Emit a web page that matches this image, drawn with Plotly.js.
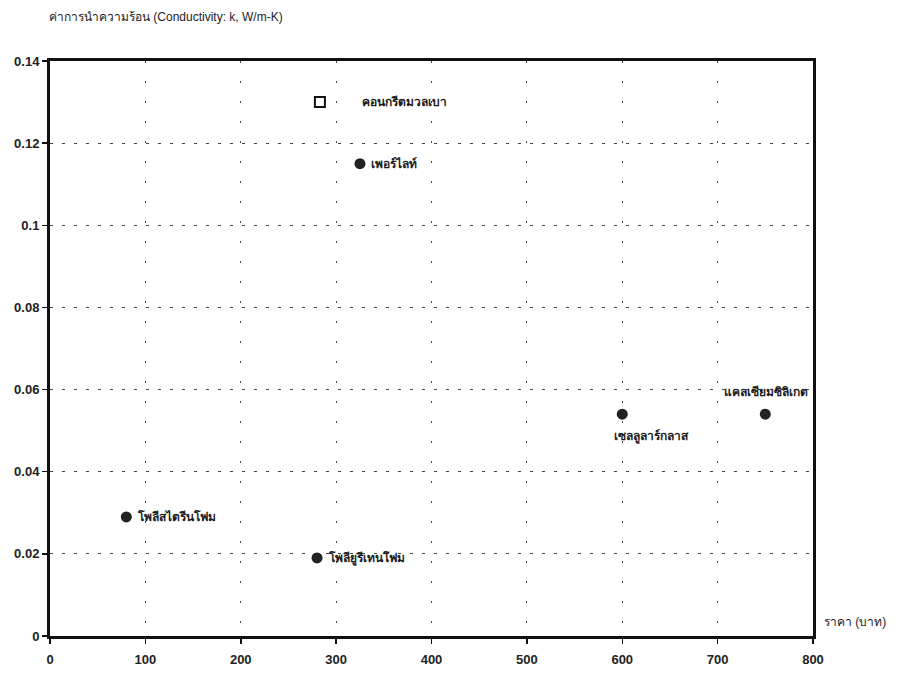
<!DOCTYPE html>
<html>
<head>
<meta charset="utf-8">
<script src="https://cdn.plot.ly/plotly-3.0.1.min.js"></script>
<style>html,body{margin:0;padding:0;background:#fff;}#chart{width:916px;height:677px;}</style>
</head>
<body>
<div id="chart"></div>
<script>
// Data
const materials = ["โพลีสไตรีนโฟม", "โพลียูรีเทนโฟม", "เพอร์ไลท์", "เซลลูลาร์กลาส", "แคลเซียมซิลิเกต"];
const prices = [80, 280, 325, 600, 750];
const conductivity = [0.029, 0.019, 0.115, 0.054, 0.054];

const hollowName = ["คอนกรีตมวลเบา"];
const hollowPrice = [283];
const hollowK = [0.13];

const xTicks = [0, 100, 200, 300, 400, 500, 600, 700, 800];
const yTicks = [0, 0.02, 0.04, 0.06, 0.08, 0.1, 0.12, 0.14];
const yTickText = ["0", "0.02", "0.04", "0.06", "0.08", "0.1", "0.12", "0.14"];

const FONT = "Liberation Sans, Arial, Noto Sans, sans-serif";

// label placement styles
const labelStyle = {
  "โพลีสไตรีนโฟม": {xanchor: "left", yanchor: "middle", xshift: 9, yshift: 0},
  "โพลียูรีเทนโฟม": {xanchor: "left", yanchor: "middle", xshift: 9, yshift: 0},
  "เพอร์ไลท์": {xanchor: "left", yanchor: "middle", xshift: 9, yshift: 0},
  "เซลลูลาร์กลาส": {xanchor: "left", yanchor: "middle", xshift: -10, yshift: -22},
  "แคลเซียมซิลิเกต": {xanchor: "right", yanchor: "middle", xshift: 45, yshift: 22},
  "คอนกรีตมวลเบา": {xanchor: "left", yanchor: "middle", xshift: 40, yshift: 0}
};

const traces = [
  {
    x: prices, y: conductivity, type: "scatter", mode: "markers",
    marker: {color: "#222", size: 11, symbol: "circle"},
    hoverinfo: "skip", showlegend: false, cliponaxis: false
  },
  {
    x: hollowPrice, y: hollowK, type: "scatter", mode: "markers",
    marker: {color: "rgba(0,0,0,0)", size: 10, symbol: "square", line: {color: "#111", width: 2}},
    hoverinfo: "skip", showlegend: false
  }
];

const labelFont = {family: FONT, size: 12, color: "#1a1a1a", weight: "bold"};
const annotations = [];
materials.forEach((m, i) => {
  const s = labelStyle[m];
  annotations.push({x: prices[i], y: conductivity[i], xref: "x", yref: "y", text: m, showarrow: false,
    xanchor: s.xanchor, yanchor: s.yanchor, xshift: s.xshift, yshift: s.yshift, font: labelFont});
});
hollowName.forEach((m, i) => {
  const s = labelStyle[m];
  annotations.push({x: hollowPrice[i], y: hollowK[i], xref: "x", yref: "y", text: m, showarrow: false,
    xanchor: s.xanchor, yanchor: s.yanchor, xshift: s.xshift, yshift: s.yshift, font: labelFont});
});
annotations.push({xref: "paper", yref: "paper", x: -0.004, y: 1.077, xanchor: "left", yanchor: "middle",
  text: "ค่าการนำความร้อน (Conductivity: k, W/m-K)", showarrow: false,
  font: {family: FONT, size: 12, color: "#222"}});
annotations.push({xref: "paper", yref: "paper", x: 1.012, y: 0.025, xanchor: "left", yanchor: "middle",
  text: "ราคา (บาท)", showarrow: false, font: {family: FONT, size: 12, color: "#222"}});

const layout = {
  width: 916, height: 677,
  margin: {l: 50, r: 103, t: 61, b: 41},
  paper_bgcolor: "#fff", plot_bgcolor: "#fff",
  font: {family: FONT, size: 12, color: "#111"},
  xaxis: {
    range: [0, 800], tickvals: xTicks, ticktext: xTicks.map(String),
    showline: true, linecolor: "#111", linewidth: 3, mirror: true,
    ticks: "outside", ticklen: 5, tickcolor: "#111", tickwidth: 1.5,
    ticklabelstandoff: 4,
    showgrid: true, gridcolor: "#444", gridwidth: 1, griddash: "2px,18px",
    zeroline: false, tickfont: {family: FONT, size: 13, color: "#222", weight: "bold"}
  },
  yaxis: {
    range: [0, 0.14], tickvals: yTicks, ticktext: yTickText,
    showline: true, linecolor: "#111", linewidth: 3, mirror: true,
    ticks: "outside", ticklen: 5, tickcolor: "#111", tickwidth: 1.5,
    showgrid: true, gridcolor: "#444", gridwidth: 1, griddash: "3px,9px",
    zeroline: false, tickfont: {family: FONT, size: 13, color: "#222", weight: "bold"}
  },
  annotations: annotations
};

Plotly.newPlot("chart", traces, layout, {displayModeBar: false, staticPlot: true});
</script>
</body>
</html>
